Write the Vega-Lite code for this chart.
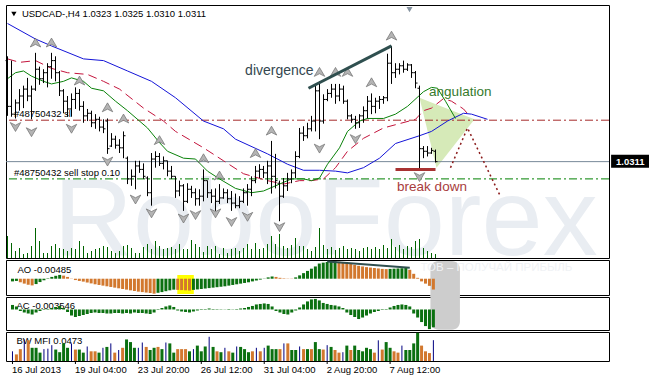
{
"$schema": "https://vega.github.io/schema/vega-lite/v6.json",
"background": "white",
"padding": {"left": 4, "top": 4, "right": 0, "bottom": 17},
"spacing": 2,
"bounds": "flush",
"config": {
  "view": {"stroke": "#000000", "strokeWidth": 1},
  "font": "Liberation Sans",
  "axis": {"labelFont": "Liberation Sans", "labelFontSize": 9, "labelColor": "#000000", "tickColor": "#000000", "domainColor": "#000000", "grid": false}
},
"datasets": {
"bars": [
{"i":0,"o":1.0428,"h":1.0433,"l":1.0364,"c":1.0375,"v":1320,"ao":-0.0012,"aoc":"g","ac":0.0009,"acc":"r","mf":0.022,"mfc":"b"},
{"i":1,"o":1.0375,"h":1.0428,"l":1.0363,"c":1.0366,"v":900,"ao":-0.0010,"aoc":"g","ac":0.0006,"acc":"r","mf":0.015,"mfc":"y"},
{"i":2,"o":1.0366,"h":1.0383,"l":1.0361,"c":1.0379,"v":420,"ao":-0.0016,"aoc":"o","ac":-0.0003,"acc":"r","mf":0.027,"mfc":"y"},
{"i":3,"o":1.0379,"h":1.0395,"l":1.0370,"c":1.0387,"v":600,"ao":-0.0022,"aoc":"o","ac":-0.0006,"acc":"r","mf":0.049,"mfc":"b"},
{"i":4,"o":1.0387,"h":1.0399,"l":1.0373,"c":1.0395,"v":240,"ao":-0.0027,"aoc":"o","ac":-0.0008,"acc":"r","mf":0.047,"mfc":"y"},
{"i":5,"o":1.0395,"h":1.0408,"l":1.0381,"c":1.0387,"v":300,"ao":-0.0030,"aoc":"o","ac":-0.0010,"acc":"r","mf":0.030,"mfc":"r"},
{"i":6,"o":1.0387,"h":1.0399,"l":1.0360,"c":1.0395,"v":720,"ao":-0.0024,"aoc":"g","ac":-0.0006,"acc":"g","mf":0.030,"mfc":"r"},
{"i":7,"o":1.0395,"h":1.0437,"l":1.0393,"c":1.0418,"v":1800,"ao":-0.0015,"aoc":"g","ac":-0.0003,"acc":"g","mf":0.019,"mfc":"r"},
{"i":8,"o":1.0418,"h":1.0421,"l":1.0400,"c":1.0407,"v":1020,"ao":-0.0007,"aoc":"g","ac":-0.0001,"acc":"g","mf":0.027,"mfc":"b"},
{"i":9,"o":1.0407,"h":1.0418,"l":1.0402,"c":1.0414,"v":300,"ao":0.0002,"aoc":"g","ac":0.0001,"acc":"g","mf":0.028,"mfc":"b"},
{"i":10,"o":1.0414,"h":1.0425,"l":1.0397,"c":1.0421,"v":300,"ao":0.0008,"aoc":"g","ac":0.0003,"acc":"g","mf":0.036,"mfc":"b"},
{"i":11,"o":1.0421,"h":1.0437,"l":1.0407,"c":1.0428,"v":720,"ao":0.0013,"aoc":"g","ac":0.0005,"acc":"g","mf":0.026,"mfc":"r"},
{"i":12,"o":1.0428,"h":1.0433,"l":1.0404,"c":1.0414,"v":840,"ao":0.0017,"aoc":"g","ac":0.0007,"acc":"g","mf":0.020,"mfc":"r"},
{"i":13,"o":1.0414,"h":1.0416,"l":1.0387,"c":1.0393,"v":600,"ao":0.0014,"aoc":"o","ac":0.0003,"acc":"r","mf":0.040,"mfc":"g"},
{"i":14,"o":1.0393,"h":1.0395,"l":1.0367,"c":1.0381,"v":540,"ao":0.0008,"aoc":"o","ac":-0.0005,"acc":"r","mf":0.030,"mfc":"g"},
{"i":15,"o":1.0381,"h":1.0387,"l":1.0363,"c":1.0372,"v":420,"ao":0.0001,"aoc":"o","ac":-0.0012,"acc":"r","mf":0.040,"mfc":"b"},
{"i":16,"o":1.0372,"h":1.0390,"l":1.0363,"c":1.0383,"v":600,"ao":-0.0006,"aoc":"o","ac":-0.0015,"acc":"r","mf":0.026,"mfc":"y"},
{"i":17,"o":1.0383,"h":1.0397,"l":1.0372,"c":1.0390,"v":540,"ao":-0.0010,"aoc":"o","ac":-0.0013,"acc":"g","mf":0.026,"mfc":"g"},
{"i":18,"o":1.0390,"h":1.0395,"l":1.0370,"c":1.0375,"v":1020,"ao":-0.0013,"aoc":"o","ac":-0.0011,"acc":"g","mf":0.019,"mfc":"r"},
{"i":19,"o":1.0375,"h":1.0381,"l":1.0356,"c":1.0364,"v":720,"ao":-0.0017,"aoc":"o","ac":-0.0009,"acc":"g","mf":0.033,"mfc":"b"},
{"i":20,"o":1.0364,"h":1.0372,"l":1.0358,"c":1.0367,"v":300,"ao":-0.0021,"aoc":"o","ac":-0.0007,"acc":"g","mf":0.022,"mfc":"y"},
{"i":21,"o":1.0367,"h":1.0370,"l":1.0351,"c":1.0356,"v":420,"ao":-0.0025,"aoc":"o","ac":-0.0006,"acc":"g","mf":0.022,"mfc":"y"},
{"i":22,"o":1.0356,"h":1.0366,"l":1.0349,"c":1.0360,"v":540,"ao":-0.0028,"aoc":"o","ac":-0.0007,"acc":"r","mf":0.019,"mfc":"r"},
{"i":23,"o":1.0360,"h":1.0363,"l":1.0346,"c":1.0351,"v":600,"ao":-0.0031,"aoc":"o","ac":-0.0007,"acc":"r","mf":0.030,"mfc":"b"},
{"i":24,"o":1.0351,"h":1.0360,"l":1.0344,"c":1.0349,"v":720,"ao":-0.0034,"aoc":"o","ac":-0.0008,"acc":"r","mf":0.032,"mfc":"g"},
{"i":25,"o":1.0358,"h":1.0361,"l":1.0320,"c":1.0326,"v":660,"ao":-0.0037,"aoc":"o","ac":-0.0008,"acc":"r","mf":0.040,"mfc":"b"},
{"i":26,"o":1.0329,"h":1.0344,"l":1.0328,"c":1.0337,"v":420,"ao":-0.0040,"aoc":"o","ac":-0.0007,"acc":"g","mf":0.019,"mfc":"y"},
{"i":27,"o":1.0337,"h":1.0341,"l":1.0326,"c":1.0330,"v":300,"ao":-0.0043,"aoc":"o","ac":-0.0007,"acc":"r","mf":0.025,"mfc":"b"},
{"i":28,"o":1.0330,"h":1.0337,"l":1.0321,"c":1.0327,"v":420,"ao":-0.0046,"aoc":"o","ac":-0.0008,"acc":"r","mf":0.030,"mfc":"y"},
{"i":29,"o":1.0327,"h":1.0346,"l":1.0315,"c":1.0341,"v":720,"ao":-0.0049,"aoc":"o","ac":-0.0007,"acc":"g","mf":0.049,"mfc":"g"},
{"i":30,"o":1.0315,"h":1.0317,"l":1.0285,"c":1.0291,"v":780,"ao":-0.0052,"aoc":"o","ac":-0.0008,"acc":"r","mf":0.043,"mfc":"r"},
{"i":31,"o":1.0291,"h":1.0302,"l":1.0283,"c":1.0294,"v":600,"ao":-0.0055,"aoc":"o","ac":-0.0006,"acc":"g","mf":0.030,"mfc":"r"},
{"i":32,"o":1.0294,"h":1.0312,"l":1.0279,"c":1.0306,"v":300,"ao":-0.0058,"aoc":"o","ac":-0.0007,"acc":"r","mf":0.030,"mfc":"b"},
{"i":33,"o":1.0306,"h":1.0312,"l":1.0298,"c":1.0302,"v":300,"ao":-0.0060,"aoc":"o","ac":-0.0007,"acc":"r","mf":0.042,"mfc":"b"},
{"i":34,"o":1.0302,"h":1.0309,"l":1.0291,"c":1.0294,"v":660,"ao":-0.0062,"aoc":"o","ac":-0.0008,"acc":"r","mf":0.032,"mfc":"y"},
{"i":35,"o":1.0292,"h":1.0294,"l":1.0271,"c":1.0275,"v":840,"ao":-0.0064,"aoc":"o","ac":-0.0009,"acc":"r","mf":0.025,"mfc":"r"},
{"i":36,"o":1.0275,"h":1.0321,"l":1.0260,"c":1.0314,"v":540,"ao":-0.0067,"aoc":"o","ac":-0.0006,"acc":"g","mf":0.030,"mfc":"g"},
{"i":37,"o":1.0314,"h":1.0323,"l":1.0304,"c":1.0317,"v":1020,"ao":-0.0063,"aoc":"g","ac":-0.0001,"acc":"g","mf":0.032,"mfc":"y"},
{"i":38,"o":1.0317,"h":1.0321,"l":1.0306,"c":1.0309,"v":720,"ao":-0.0060,"aoc":"g","ac":0.0003,"acc":"g","mf":0.027,"mfc":"g"},
{"i":39,"o":1.0309,"h":1.0317,"l":1.0302,"c":1.0312,"v":540,"ao":-0.0056,"aoc":"g","ac":0.0006,"acc":"g","mf":0.042,"mfc":"b"},
{"i":40,"o":1.0312,"h":1.0312,"l":1.0294,"c":1.0300,"v":600,"ao":-0.0052,"aoc":"g","ac":0.0008,"acc":"g","mf":0.040,"mfc":"g"},
{"i":41,"o":1.0300,"h":1.0306,"l":1.0291,"c":1.0294,"v":660,"ao":-0.0049,"aoc":"g","ac":0.0005,"acc":"r","mf":0.019,"mfc":"r"},
{"i":42,"o":1.0294,"h":1.0294,"l":1.0269,"c":1.0277,"v":540,"ao":-0.0050,"aoc":"o","ac":-0.0002,"acc":"r","mf":0.027,"mfc":"y"},
{"i":43,"o":1.0277,"h":1.0289,"l":1.0271,"c":1.0283,"v":840,"ao":-0.0051,"aoc":"o","ac":-0.0004,"acc":"r","mf":0.027,"mfc":"y"},
{"i":44,"o":1.0283,"h":1.0285,"l":1.0254,"c":1.0265,"v":540,"ao":-0.0052,"aoc":"o","ac":-0.0005,"acc":"r","mf":0.027,"mfc":"y"},
{"i":45,"o":1.0265,"h":1.0286,"l":1.0263,"c":1.0279,"v":540,"ao":-0.0053,"aoc":"o","ac":-0.0006,"acc":"r","mf":0.022,"mfc":"r"},
{"i":46,"o":1.0279,"h":1.0283,"l":1.0269,"c":1.0275,"v":1080,"ao":-0.0050,"aoc":"g","ac":-0.0004,"acc":"g","mf":0.027,"mfc":"b"},
{"i":47,"o":1.0275,"h":1.0280,"l":1.0260,"c":1.0268,"v":840,"ao":-0.0048,"aoc":"g","ac":-0.0002,"acc":"g","mf":0.035,"mfc":"g"},
{"i":48,"o":1.0268,"h":1.0279,"l":1.0260,"c":1.0271,"v":660,"ao":-0.0046,"aoc":"g","ac":-0.0001,"acc":"g","mf":0.022,"mfc":"r"},
{"i":49,"o":1.0271,"h":1.0302,"l":1.0265,"c":1.0289,"v":360,"ao":-0.0044,"aoc":"g","ac":0.0001,"acc":"g","mf":0.033,"mfc":"g"},
{"i":50,"o":1.0289,"h":1.0289,"l":1.0269,"c":1.0275,"v":720,"ao":-0.0042,"aoc":"g","ac":0.0002,"acc":"g","mf":0.055,"mfc":"b"},
{"i":51,"o":1.0275,"h":1.0279,"l":1.0263,"c":1.0271,"v":540,"ao":-0.0040,"aoc":"g","ac":0.0001,"acc":"r","mf":0.032,"mfc":"r"},
{"i":52,"o":1.0271,"h":1.0280,"l":1.0254,"c":1.0265,"v":720,"ao":-0.0038,"aoc":"g","ac":0.00008,"acc":"r","mf":0.022,"mfc":"y"},
{"i":53,"o":1.0265,"h":1.0285,"l":1.0262,"c":1.0269,"v":240,"ao":-0.0036,"aoc":"g","ac":0.00006,"acc":"r","mf":0.020,"mfc":"r"},
{"i":54,"o":1.0269,"h":1.0280,"l":1.0268,"c":1.0275,"v":600,"ao":-0.0034,"aoc":"g","ac":0.00004,"acc":"r","mf":0.030,"mfc":"b"},
{"i":55,"o":1.0275,"h":1.0279,"l":1.0263,"c":1.0268,"v":300,"ao":-0.0031,"aoc":"g","ac":-0.0001,"acc":"r","mf":0.022,"mfc":"y"},
{"i":56,"o":1.0268,"h":1.0277,"l":1.0254,"c":1.0263,"v":540,"ao":-0.0028,"aoc":"g","ac":-0.00005,"acc":"g","mf":0.019,"mfc":"g"},
{"i":57,"o":1.0263,"h":1.0274,"l":1.0257,"c":1.0260,"v":600,"ao":-0.0025,"aoc":"g","ac":0.0001,"acc":"g","mf":0.033,"mfc":"b"},
{"i":58,"o":1.0260,"h":1.0271,"l":1.0257,"c":1.0265,"v":420,"ao":-0.0022,"aoc":"g","ac":0.0002,"acc":"g","mf":0.032,"mfc":"r"},
{"i":59,"o":1.0265,"h":1.0280,"l":1.0263,"c":1.0275,"v":600,"ao":-0.0019,"aoc":"g","ac":0.0003,"acc":"g","mf":0.027,"mfc":"g"},
{"i":60,"o":1.0275,"h":1.0285,"l":1.0260,"c":1.0279,"v":840,"ao":-0.0016,"aoc":"g","ac":0.0005,"acc":"g","mf":0.020,"mfc":"r"},
{"i":61,"o":1.0279,"h":1.0294,"l":1.0271,"c":1.0289,"v":540,"ao":-0.0012,"aoc":"g","ac":0.0007,"acc":"g","mf":0.022,"mfc":"y"},
{"i":62,"o":1.0289,"h":1.0306,"l":1.0286,"c":1.0300,"v":900,"ao":-0.0008,"aoc":"g","ac":0.0010,"acc":"g","mf":0.030,"mfc":"b"},
{"i":63,"o":1.0300,"h":1.0308,"l":1.0292,"c":1.0302,"v":540,"ao":-0.0004,"aoc":"g","ac":0.0011,"acc":"g","mf":0.022,"mfc":"y"},
{"i":64,"o":1.0302,"h":1.0306,"l":1.0292,"c":1.0298,"v":600,"ao":0.0001,"aoc":"g","ac":0.0012,"acc":"g","mf":0.030,"mfc":"b"},
{"i":65,"o":1.0298,"h":1.0312,"l":1.0285,"c":1.0306,"v":840,"ao":0.0006,"aoc":"g","ac":0.0011,"acc":"r","mf":0.035,"mfc":"g"},
{"i":66,"o":1.0306,"h":1.0335,"l":1.0274,"c":1.0294,"v":1320,"ao":0.0010,"aoc":"g","ac":0.0006,"acc":"r","mf":0.027,"mfc":"r"},
{"i":67,"o":1.0294,"h":1.0320,"l":1.0280,"c":1.0289,"v":840,"ao":0.0008,"aoc":"o","ac":-0.0003,"acc":"r","mf":0.027,"mfc":"r"},
{"i":68,"o":1.0286,"h":1.0289,"l":1.0242,"c":1.0271,"v":1440,"ao":0.0004,"aoc":"o","ac":-0.0006,"acc":"r","mf":0.027,"mfc":"y"},
{"i":69,"o":1.0271,"h":1.0292,"l":1.0269,"c":1.0283,"v":720,"ao":0.0002,"aoc":"o","ac":-0.0009,"acc":"r","mf":0.040,"mfc":"b"},
{"i":70,"o":1.0283,"h":1.0298,"l":1.0277,"c":1.0291,"v":600,"ao":0.0001,"aoc":"o","ac":-0.0010,"acc":"r","mf":0.040,"mfc":"y"},
{"i":71,"o":1.0291,"h":1.0302,"l":1.0286,"c":1.0298,"v":780,"ao":-0.0001,"aoc":"o","ac":-0.0006,"acc":"g","mf":0.025,"mfc":"r"},
{"i":72,"o":1.0298,"h":1.0323,"l":1.0292,"c":1.0317,"v":1200,"ao":0.0006,"aoc":"g","ac":-0.0002,"acc":"g","mf":0.025,"mfc":"g"},
{"i":73,"o":1.0317,"h":1.0350,"l":1.0315,"c":1.0344,"v":720,"ao":0.0015,"aoc":"g","ac":0.0004,"acc":"g","mf":0.033,"mfc":"b"},
{"i":74,"o":1.0344,"h":1.0352,"l":1.0335,"c":1.0341,"v":720,"ao":0.0025,"aoc":"g","ac":0.0010,"acc":"g","mf":0.027,"mfc":"y"},
{"i":75,"o":1.0341,"h":1.0356,"l":1.0338,"c":1.0349,"v":540,"ao":0.0035,"aoc":"g","ac":0.0016,"acc":"g","mf":0.027,"mfc":"r"},
{"i":76,"o":1.0349,"h":1.0364,"l":1.0346,"c":1.0358,"v":420,"ao":0.0045,"aoc":"g","ac":0.0020,"acc":"g","mf":0.027,"mfc":"y"},
{"i":77,"o":1.0358,"h":1.0401,"l":1.0346,"c":1.0393,"v":660,"ao":0.0055,"aoc":"g","ac":0.0021,"acc":"g","mf":0.043,"mfc":"g"},
{"i":78,"o":1.0393,"h":1.0404,"l":1.0337,"c":1.0358,"v":1800,"ao":0.0068,"aoc":"g","ac":0.0018,"acc":"r","mf":0.027,"mfc":"r"},
{"i":79,"o":1.0358,"h":1.0389,"l":1.0355,"c":1.0383,"v":780,"ao":0.0072,"aoc":"g","ac":0.0013,"acc":"r","mf":0.026,"mfc":"y"},
{"i":80,"o":1.0383,"h":1.0395,"l":1.0381,"c":1.0390,"v":540,"ao":0.0075,"aoc":"g","ac":0.0011,"acc":"r","mf":0.036,"mfc":"b"},
{"i":81,"o":1.0390,"h":1.0401,"l":1.0385,"c":1.0395,"v":660,"ao":0.0077,"aoc":"g","ac":0.0009,"acc":"r","mf":0.032,"mfc":"r"},
{"i":82,"o":1.0395,"h":1.0401,"l":1.0378,"c":1.0387,"v":480,"ao":0.0078,"aoc":"g","ac":0.0008,"acc":"r","mf":0.025,"mfc":"y"},
{"i":83,"o":1.0387,"h":1.0401,"l":1.0381,"c":1.0395,"v":600,"ao":0.0076,"aoc":"o","ac":0.0006,"acc":"r","mf":0.019,"mfc":"y"},
{"i":84,"o":1.0395,"h":1.0399,"l":1.0378,"c":1.0381,"v":720,"ao":0.0073,"aoc":"o","ac":0.0003,"acc":"r","mf":0.020,"mfc":"b"},
{"i":85,"o":1.0381,"h":1.0383,"l":1.0360,"c":1.0364,"v":540,"ao":0.0070,"aoc":"o","ac":-0.0006,"acc":"r","mf":0.035,"mfc":"g"},
{"i":86,"o":1.0364,"h":1.0366,"l":1.0356,"c":1.0360,"v":600,"ao":0.0066,"aoc":"o","ac":-0.0011,"acc":"r","mf":0.025,"mfc":"y"},
{"i":87,"o":1.0360,"h":1.0364,"l":1.0349,"c":1.0356,"v":540,"ao":0.0062,"aoc":"o","ac":-0.0015,"acc":"r","mf":0.035,"mfc":"g"},
{"i":88,"o":1.0356,"h":1.0366,"l":1.0350,"c":1.0364,"v":420,"ao":0.0058,"aoc":"o","ac":-0.0019,"acc":"r","mf":0.025,"mfc":"r"},
{"i":89,"o":1.0364,"h":1.0375,"l":1.0356,"c":1.0370,"v":600,"ao":0.0055,"aoc":"o","ac":-0.0016,"acc":"g","mf":0.022,"mfc":"r"},
{"i":90,"o":1.0370,"h":1.0387,"l":1.0361,"c":1.0381,"v":660,"ao":0.0052,"aoc":"o","ac":-0.0012,"acc":"g","mf":0.030,"mfc":"g"},
{"i":91,"o":1.0381,"h":1.0390,"l":1.0366,"c":1.0375,"v":540,"ao":0.0050,"aoc":"o","ac":-0.0008,"acc":"g","mf":0.027,"mfc":"r"},
{"i":92,"o":1.0375,"h":1.0385,"l":1.0367,"c":1.0381,"v":660,"ao":0.0048,"aoc":"o","ac":-0.0005,"acc":"g","mf":0.019,"mfc":"y"},
{"i":93,"o":1.0381,"h":1.0387,"l":1.0372,"c":1.0383,"v":540,"ao":0.0046,"aoc":"o","ac":-0.0003,"acc":"g","mf":0.047,"mfc":"b"},
{"i":94,"o":1.0383,"h":1.0387,"l":1.0378,"c":1.0385,"v":780,"ao":0.0044,"aoc":"o","ac":-0.0001,"acc":"g","mf":0.026,"mfc":"y"},
{"i":95,"o":1.0385,"h":1.0436,"l":1.0381,"c":1.0425,"v":600,"ao":0.0043,"aoc":"o","ac":0.0001,"acc":"g","mf":0.043,"mfc":"g"},
{"i":96,"o":1.0425,"h":1.0445,"l":1.0401,"c":1.0414,"v":1140,"ao":0.0044,"aoc":"g","ac":0.0004,"acc":"g","mf":0.030,"mfc":"r"},
{"i":97,"o":1.0414,"h":1.0425,"l":1.0408,"c":1.0418,"v":660,"ao":0.0045,"aoc":"g","ac":0.0007,"acc":"g","mf":0.022,"mfc":"y"},
{"i":98,"o":1.0418,"h":1.0425,"l":1.0412,"c":1.0422,"v":780,"ao":0.0046,"aoc":"g","ac":0.0009,"acc":"g","mf":0.019,"mfc":"y"},
{"i":99,"o":1.0422,"h":1.0428,"l":1.0414,"c":1.0418,"v":540,"ao":0.0047,"aoc":"g","ac":0.0010,"acc":"g","mf":0.035,"mfc":"b"},
{"i":100,"o":1.0418,"h":1.0425,"l":1.0416,"c":1.0423,"v":720,"ao":0.0048,"aoc":"g","ac":0.0009,"acc":"r","mf":0.025,"mfc":"r"},
{"i":101,"o":1.0423,"h":1.0424,"l":1.0408,"c":1.0414,"v":660,"ao":0.0040,"aoc":"o","ac":0.0006,"acc":"r","mf":0.025,"mfc":"r"},
{"i":102,"o":1.0414,"h":1.0416,"l":1.0396,"c":1.0402,"v":1020,"ao":0.0022,"aoc":"o","ac":-0.0008,"acc":"r","mf":0.040,"mfc":"g"},
{"i":103,"o":1.0396,"h":1.0399,"l":1.0302,"c":1.0326,"v":1140,"ao":0.0004,"aoc":"o","ac":-0.0016,"acc":"r","mf":0.064,"mfc":"g"},
{"i":104,"o":1.0326,"h":1.0329,"l":1.0315,"c":1.0323,"v":600,"ao":-0.0012,"aoc":"o","ac":-0.0025,"acc":"r","mf":0.035,"mfc":"y"},
{"i":105,"o":1.0323,"h":1.0329,"l":1.0317,"c":1.0321,"v":420,"ao":-0.0022,"aoc":"o","ac":-0.0033,"acc":"r","mf":0.022,"mfc":"y"},
{"i":106,"o":1.0321,"h":1.0327,"l":1.0320,"c":1.0324,"v":300,"ao":-0.0032,"aoc":"o","ac":-0.0039,"acc":"r","mf":0.018,"mfc":"y"},
{"i":107,"o":1.0323,"h":1.0325,"l":1.0310,"c":1.0311,"v":240,"ao":-0.00485,"aoc":"o","ac":-0.003546,"acc":"g","mf":0.0473,"mfc":"b"}
],
"al": [
{"s":"j","i":0,"v":1.0471},{"s":"j","i":7,"v":1.0453},{"s":"j","i":11,"v":1.0445},{"s":"j","i":19,"v":1.0430},{"s":"j","i":24,"v":1.0428},{"s":"j","i":30,"v":1.0416},{"s":"j","i":36,"v":1.0404},{"s":"j","i":42,"v":1.0385},{"s":"j","i":49,"v":1.0358},{"s":"j","i":54,"v":1.0349},{"s":"j","i":57,"v":1.0337},{"s":"j","i":65,"v":1.0320},{"s":"j","i":70,"v":1.0308},{"s":"j","i":74,"v":1.0301},{"s":"j","i":78,"v":1.0301},{"s":"j","i":82,"v":1.0300},{"s":"j","i":85,"v":1.0298},{"s":"j","i":89,"v":1.0304},{"s":"j","i":93,"v":1.0315},{"s":"j","i":97,"v":1.0332},{"s":"j","i":103,"v":1.0341},{"s":"j","i":106,"v":1.0346},{"s":"j","i":110,"v":1.0358},{"s":"j","i":114,"v":1.0367},{"s":"j","i":116,"v":1.0366},{"s":"j","i":120,"v":1.0360},
{"s":"t","i":0,"v":1.0430},{"s":"t","i":3,"v":1.0426},{"s":"t","i":7,"v":1.0428},{"s":"t","i":11,"v":1.0419},{"s":"t","i":15,"v":1.0414},{"s":"t","i":20,"v":1.0412},{"s":"t","i":24,"v":1.0404},{"s":"t","i":28,"v":1.0395},{"s":"t","i":34,"v":1.0373},{"s":"t","i":39,"v":1.0358},{"s":"t","i":42,"v":1.0346},{"s":"t","i":49,"v":1.0327},{"s":"t","i":54,"v":1.0312},{"s":"t","i":59,"v":1.0297},{"s":"t","i":65,"v":1.0289},{"s":"t","i":69,"v":1.0285},{"s":"t","i":73,"v":1.0289},{"s":"t","i":76,"v":1.0289},{"s":"t","i":79,"v":1.0291},{"s":"t","i":82,"v":1.0304},{"s":"t","i":85,"v":1.0323},{"s":"t","i":89,"v":1.0338},{"s":"t","i":94,"v":1.0350},{"s":"t","i":98,"v":1.0355},{"s":"t","i":102,"v":1.0360},{"s":"t","i":104,"v":1.0370},{"s":"t","i":106,"v":1.0373},{"s":"t","i":109,"v":1.0384},{"s":"t","i":111,"v":1.0381},{"s":"t","i":114,"v":1.0372},{"s":"t","i":115.5,"v":1.0364},
{"s":"l","i":0,"v":1.0407},{"s":"l","i":2,"v":1.0414},{"s":"l","i":4,"v":1.0416},{"s":"l","i":6,"v":1.0410},{"s":"l","i":9,"v":1.0404},{"s":"l","i":11,"v":1.0401},{"s":"l","i":14,"v":1.0404},{"s":"l","i":16,"v":1.0408},{"s":"l","i":19,"v":1.0404},{"s":"l","i":21,"v":1.0396},{"s":"l","i":24,"v":1.0393},{"s":"l","i":27,"v":1.0381},{"s":"l","i":30,"v":1.0370},{"s":"l","i":35,"v":1.0350},{"s":"l","i":38,"v":1.0333},{"s":"l","i":40,"v":1.0323},{"s":"l","i":44,"v":1.0315},{"s":"l","i":47,"v":1.0314},{"s":"l","i":50,"v":1.0300},{"s":"l","i":53,"v":1.0291},{"s":"l","i":57,"v":1.0280},{"s":"l","i":61,"v":1.0275},{"s":"l","i":64,"v":1.0277},{"s":"l","i":68,"v":1.0285},{"s":"l","i":71,"v":1.0291},{"s":"l","i":74,"v":1.0291},{"s":"l","i":76,"v":1.0289},{"s":"l","i":78,"v":1.0292},{"s":"l","i":80,"v":1.0308},{"s":"l","i":83,"v":1.0327},{"s":"l","i":85,"v":1.0346},{"s":"l","i":88,"v":1.0358},{"s":"l","i":90,"v":1.0361},{"s":"l","i":94,"v":1.0361},{"s":"l","i":97,"v":1.0366},{"s":"l","i":100,"v":1.0375},{"s":"l","i":104,"v":1.0392},{"s":"l","i":106,"v":1.0397},{"s":"l","i":107.5,"v":1.0396},{"s":"l","i":109.5,"v":1.0381},{"s":"l","i":112,"v":1.0361}
],
"fr": [
{"i":7,"p":1.0448,"d":"u"},{"i":11,"p":1.0448,"d":"u"},{"i":18,"p":1.0404,"d":"u"},{"i":25,"p":1.0373,"d":"u"},{"i":29,"p":1.0360,"d":"u"},{"i":38,"p":1.0335,"d":"u"},{"i":49,"p":1.0314,"d":"u"},{"i":53,"p":1.0294,"d":"u"},{"i":62,"p":1.0320,"d":"u"},{"i":66,"p":1.0346,"d":"u"},{"i":78,"p":1.0414,"d":"u"},{"i":82,"p":1.0414,"d":"u"},{"i":85,"p":1.0414,"d":"u"},{"i":91,"p":1.0402,"d":"u"},{"i":96,"p":1.0456,"d":"u"},
{"i":2,"p":1.0352,"d":"d"},{"i":6,"p":1.0346,"d":"d"},{"i":16,"p":1.0350,"d":"d"},{"i":25,"p":1.0312,"d":"d"},{"i":32,"p":1.0268,"d":"d"},{"i":36,"p":1.0252,"d":"d"},{"i":44,"p":1.0246,"d":"d"},{"i":47,"p":1.0250,"d":"d"},{"i":52,"p":1.0252,"d":"d"},{"i":56,"p":1.0242,"d":"d"},{"i":60,"p":1.0248,"d":"d"},{"i":68,"p":1.0236,"d":"d"},{"i":78,"p":1.0327,"d":"d"},{"i":87,"p":1.0338,"d":"d"},{"i":103,"p":1.0294,"d":"d"}
],
"dates": [
{"i":0,"t":"16 Jul 2013"},{"i":16,"t":"19 Jul 04:00"},{"i":32,"t":"23 Jul 20:00"},{"i":48,"t":"26 Jul 12:00"},{"i":64,"t":"31 Jul 04:00"},{"i":80,"t":"2 Aug 20:00"},{"i":96,"t":"7 Aug 12:00"}
]
},
"vconcat": [
{
"width": 603, "height": 253,
"resolve": {"scale": {"y": "independent"}},
"layer": [
 {"layer": [
  {"data": {"values": [{}]}, "mark": {"type": "text", "text": "RoboForex", "fontSize": 110, "color": "#e9edf2", "align": "left", "baseline": "alphabetic", "clip": true},
   "encoding": {"x": {"datum": 11.5, "type": "quantitative", "scale": {"domain": [-0.375, 150.375], "nice": false, "zero": false}, "axis": null},
                "y": {"datum": 160, "type": "quantitative", "scale": {"domain": [0, 15180], "nice": false}, "axis": null}}},
  {"data": {"name": "bars"}, "mark": {"type": "rule", "color": "#006400"},
   "encoding": {"x": {"field": "i", "type": "quantitative", "axis": null}, "y": {"field": "v", "type": "quantitative", "axis": null}, "y2": {"datum": 0}}}
 ]},
 {"layer": [
  {"data": {"values": [{"i": 103, "t": 1.0385, "b": 1.0385}, {"i": 107.25, "t": 1.03773, "b": 1.0304}, {"i": 116.75, "t": 1.0360, "b": 1.0360}]},
   "mark": {"type": "area", "color": "#d6eab8", "opacity": 1},
   "encoding": {"x": {"field": "i", "type": "quantitative", "axis": null}, "y": {"field": "t", "type": "quantitative", "scale": {"domain": [1.01994, 1.04924], "nice": false, "zero": false}, "axis": null}, "y2": {"field": "b"}}},
  {"data": {"values": [{}]}, "mark": {"type": "rule", "color": "#a52a2a", "strokeDash": [8, 3, 2, 3]}, "encoding": {"y": {"datum": 1.0359, "type": "quantitative", "axis": null}}},
  {"data": {"values": [{}]}, "mark": {"type": "rule", "color": "#778899"}, "encoding": {"y": {"datum": 1.0311, "type": "quantitative", "axis": null}}},
  {"data": {"values": [{}]}, "mark": {"type": "rule", "color": "#008000", "strokeDash": [8, 3, 2, 3]}, "encoding": {"y": {"datum": 1.0291, "type": "quantitative", "axis": null}}},
  {"data": {"name": "al"}, "transform": [{"filter": "datum.s == 'j'"}], "mark": {"type": "line", "color": "#1414d8", "strokeWidth": 1},
   "encoding": {"x": {"field": "i", "type": "quantitative", "axis": null}, "y": {"field": "v", "type": "quantitative", "axis": null}}},
  {"data": {"name": "al"}, "transform": [{"filter": "datum.s == 't'"}], "mark": {"type": "line", "color": "#c4143c", "strokeWidth": 1, "strokeDash": [9, 5]},
   "encoding": {"x": {"field": "i", "type": "quantitative", "axis": null}, "y": {"field": "v", "type": "quantitative", "axis": null}}},
  {"data": {"name": "al"}, "transform": [{"filter": "datum.s == 'l'"}], "mark": {"type": "line", "color": "#0a820a", "strokeWidth": 1},
   "encoding": {"x": {"field": "i", "type": "quantitative", "axis": null}, "y": {"field": "v", "type": "quantitative", "axis": null}}},
  {"data": {"name": "bars"}, "mark": {"type": "rule", "color": "#000000", "strokeWidth": 1},
   "encoding": {"x": {"field": "i", "type": "quantitative", "axis": null},
                "y": {"field": "h", "type": "quantitative", "title": null, "axis": {"orient": "right", "values": [1.0205, 1.0245, 1.0285, 1.0325, 1.0365, 1.0405, 1.0445, 1.0485], "format": ".4f", "tickSize": 3, "labelPadding": 2, "labelFlush": false, "grid": false, "title": null}},
                "y2": {"field": "l"}}},
  {"data": {"name": "bars"}, "mark": {"type": "rule", "color": "#000000", "strokeWidth": 1, "xOffset": -2, "x2Offset": 0},
   "encoding": {"x": {"field": "i", "type": "quantitative", "axis": null}, "x2": {"field": "i"}, "y": {"field": "o", "type": "quantitative", "axis": null}}},
  {"data": {"name": "bars"}, "mark": {"type": "rule", "color": "#000000", "strokeWidth": 1, "xOffset": 0, "x2Offset": 2},
   "encoding": {"x": {"field": "i", "type": "quantitative", "axis": null}, "x2": {"field": "i"}, "y": {"field": "c", "type": "quantitative", "axis": null}}},
  {"data": {"name": "fr"}, "mark": {"type": "point", "filled": true, "size": 110, "fill": "#b4b4b4", "stroke": "#6e6e6e", "strokeWidth": 0.7, "opacity": 1},
   "encoding": {"x": {"field": "i", "type": "quantitative", "axis": null}, "y": {"field": "p", "type": "quantitative", "axis": null},
                "shape": {"field": "d", "type": "nominal", "scale": {"domain": ["u", "d"], "range": ["M0,-1L1,0.7L0,0.2L-1,0.7Z", "M0,1L1,-0.7L0,-0.2L-1,-0.7Z"]}, "legend": null}}},
  {"data": {"values": [{"i": 75.25, "p": 1.0396}, {"i": 96, "p": 1.0445}]}, "mark": {"type": "line", "color": "#2f4f4f", "strokeWidth": 3},
   "encoding": {"x": {"field": "i", "type": "quantitative", "axis": null}, "y": {"field": "p", "type": "quantitative", "axis": null}}},
  {"data": {"values": [{"i": 97, "p": 1.0302}, {"i": 107, "p": 1.0302}]}, "mark": {"type": "line", "color": "#a83232", "strokeWidth": 3},
   "encoding": {"x": {"field": "i", "type": "quantitative", "axis": null}, "y": {"field": "p", "type": "quantitative", "axis": null}}},
  {"data": {"values": [{"i": 110.75, "p": 1.0304}, {"i": 115, "p": 1.0350}, {"i": 123, "p": 1.0273}]}, "mark": {"type": "line", "color": "#8b1a1a", "strokeWidth": 1.5, "strokeDash": [2, 3]},
   "encoding": {"x": {"field": "i", "type": "quantitative", "axis": null}, "y": {"field": "p", "type": "quantitative", "axis": null}}},
  {"data": {"values": [{}]}, "mark": {"type": "point", "shape": "triangle-down", "filled": true, "size": 28, "color": "#000000", "opacity": 1},
   "encoding": {"x": {"datum": 1.6, "type": "quantitative", "axis": null}, "y": {"datum": 1.0482, "type": "quantitative", "axis": null}}},
  {"data": {"values": [{}]}, "mark": {"type": "text", "text": "USDCAD-,H4  1.0323 1.0325 1.0310 1.0311", "fontSize": 9.5, "color": "#000000", "align": "left", "baseline": "middle"},
   "encoding": {"x": {"datum": 3.6, "type": "quantitative", "axis": null}, "y": {"datum": 1.0482, "type": "quantitative", "axis": null}}},
  {"data": {"values": [{}]}, "mark": {"type": "text", "text": "#48750432 sl", "fontSize": 9.5, "color": "#000000", "align": "left", "baseline": "middle"},
   "encoding": {"x": {"datum": 1.6, "type": "quantitative", "axis": null}, "y": {"datum": 1.0366, "type": "quantitative", "axis": null}}},
  {"data": {"values": [{}]}, "mark": {"type": "text", "text": "#48750432 sell stop 0.10", "fontSize": 9.5, "color": "#000000", "align": "left", "baseline": "middle"},
   "encoding": {"x": {"datum": 1.6, "type": "quantitative", "axis": null}, "y": {"datum": 1.0298, "type": "quantitative", "axis": null}}},
  {"data": {"values": [{}]}, "mark": {"type": "text", "text": "divergence", "fontSize": 14, "color": "#34474f", "align": "left", "baseline": "middle"},
   "encoding": {"x": {"datum": 59.4, "type": "quantitative", "axis": null}, "y": {"datum": 1.0416, "type": "quantitative", "axis": null}}},
  {"data": {"values": [{}]}, "mark": {"type": "text", "text": "angulation", "fontSize": 13.5, "color": "#357a2c", "align": "left", "baseline": "middle"},
   "encoding": {"x": {"datum": 105.4, "type": "quantitative", "axis": null}, "y": {"datum": 1.0392, "type": "quantitative", "axis": null}}},
  {"data": {"values": [{}]}, "mark": {"type": "text", "text": "break down", "fontSize": 13.5, "color": "#a83c3c", "align": "left", "baseline": "middle"},
   "encoding": {"x": {"datum": 97.4, "type": "quantitative", "axis": null}, "y": {"datum": 1.0282, "type": "quantitative", "axis": null}}},
  {"data": {"values": [{}]}, "mark": {"type": "point", "shape": "triangle-down", "filled": true, "size": 36, "color": "#8593a0", "opacity": 1},
   "encoding": {"x": {"datum": 100.5, "type": "quantitative", "axis": null}, "y": {"datum": 1.04871, "type": "quantitative", "axis": null}}},
  {"data": {"values": [{"p": 1.0311}]}, "mark": {"type": "rect", "color": "#000000"},
   "encoding": {"x": {"datum": 150.9, "type": "quantitative", "axis": null}, "x2": {"datum": 160.6}, "y": {"datum": 1.03191, "type": "quantitative", "axis": null}, "y2": {"datum": 1.0304}}},
  {"data": {"values": [{"p": 1.0311}]}, "mark": {"type": "text", "color": "#ffffff", "fontSize": 9.5, "fontWeight": "bold", "align": "center", "baseline": "middle"},
   "encoding": {"x": {"datum": 155.7, "type": "quantitative", "axis": null}, "y": {"field": "p", "type": "quantitative", "axis": null}, "text": {"field": "p", "type": "quantitative", "format": ".4f"}}}
 ]}
]
},
{
"width": 603, "height": 35,
"layer": [
 {"data": {"values": [{}]}, "mark": {"type": "rect", "color": "#ffff00"},
  "encoding": {"x": {"datum": 41.9, "type": "quantitative", "scale": {"domain": [-0.375, 150.375], "nice": false, "zero": false}, "axis": null}, "x2": {"datum": 46.1},
               "y": {"datum": 0.00166, "type": "quantitative", "scale": {"domain": [-0.0073, 0.00839], "nice": false, "zero": false},
                     "axis": {"orient": "right", "values": [-0.0073, 0, 0.00839], "labelExpr": "datum.value == 0 ? '0.00' : (datum.value > 0 ? '0.00839' : '-0.0073')", "tickSize": 3, "labelPadding": 2, "labelFlush": true, "labelOverlap": false, "grid": false, "title": null}},
               "y2": {"datum": -0.00685}}},
 {"data": {"values": [{}]}, "mark": {"type": "rect", "color": "#cdcdcd", "cornerRadiusTopLeft": 8, "cornerRadiusTopRight": 8},
  "encoding": {"x": {"datum": 106.25, "type": "quantitative", "axis": null}, "x2": {"datum": 113.75}, "y": {"datum": 0.0079, "type": "quantitative", "axis": null}, "y2": {"datum": -0.0082}}},
 {"data": {"values": [{}]}, "mark": {"type": "text", "text": "ТОВ – ПОЛУЧАЙ ПРИБЫЛЬ", "fontSize": 11.5, "color": "#f0f2f5", "align": "left", "baseline": "middle"},
  "encoding": {"x": {"datum": 103.75, "type": "quantitative", "axis": null}, "y": {"datum": 0.0050, "type": "quantitative", "axis": null}}},
 {"data": {"values": [{}]}, "mark": {"type": "text", "text": "AO -0.00485", "fontSize": 9.5, "color": "#000000", "align": "left", "baseline": "middle"},
  "encoding": {"x": {"datum": 1.25, "type": "quantitative", "axis": null}, "y": {"datum": 0.0040, "type": "quantitative", "axis": null}}},
 {"data": {"name": "bars"}, "mark": {"type": "bar", "width": 3},
  "encoding": {"x": {"field": "i", "type": "quantitative", "axis": null}, "y": {"field": "ao", "type": "quantitative", "axis": null}, "y2": {"datum": 0},
               "color": {"field": "aoc", "type": "nominal", "scale": {"domain": ["g", "o"], "range": ["#0b7010", "#d2782e"]}, "legend": null}}},
 {"data": {"values": [{"i": 80, "v": 0.0077}, {"i": 101, "v": 0.0049}]}, "mark": {"type": "line", "color": "#2f4f4f", "strokeWidth": 2},
  "encoding": {"x": {"field": "i", "type": "quantitative", "axis": null}, "y": {"field": "v", "type": "quantitative", "axis": null}}}
]
},
{
"width": 603, "height": 33,
"layer": [
 {"data": {"values": [{}]}, "mark": {"type": "rect", "color": "#cdcdcd", "cornerRadiusBottomLeft": 8, "cornerRadiusBottomRight": 8},
  "encoding": {"x": {"datum": 106.25, "type": "quantitative", "scale": {"domain": [-0.375, 150.375], "nice": false, "zero": false}, "axis": null}, "x2": {"datum": 113.75},
               "y": {"datum": 0.00288, "type": "quantitative", "scale": {"domain": [-0.00408, 0.002481], "nice": false, "zero": false},
                     "axis": {"orient": "right", "values": [-0.00408, 0, 0.002481], "labelExpr": "datum.value == 0 ? '0.00' : (datum.value > 0 ? '0.002481' : '-0.00408')", "tickSize": 3, "labelPadding": 2, "labelFlush": true, "labelOverlap": false, "grid": false, "title": null}},
               "y2": {"datum": -0.00404}}},
 {"data": {"values": [{}]}, "mark": {"type": "text", "text": "AC -0.003546", "fontSize": 9.5, "color": "#000000", "align": "left", "baseline": "middle"},
  "encoding": {"x": {"datum": 1.0, "type": "quantitative", "axis": null}, "y": {"datum": 0.0007, "type": "quantitative", "axis": null}}},
 {"data": {"name": "bars"}, "mark": {"type": "bar", "width": 3},
  "encoding": {"x": {"field": "i", "type": "quantitative", "axis": null}, "y": {"field": "ac", "type": "quantitative", "axis": null}, "y2": {"datum": 0},
               "color": {"field": "acc", "type": "nominal", "scale": {"domain": ["g", "r"], "range": ["#0b7010", "#dc143c"]}, "legend": null}}}
]
},
{
"width": 603, "height": 29,
"layer": [
 {"data": {"values": [{}]}, "mark": {"type": "text", "text": "BW MFI 0.0473", "fontSize": 9.5, "color": "#000000", "align": "left", "baseline": "middle"},
  "encoding": {"x": {"datum": 1.0, "type": "quantitative", "scale": {"domain": [-0.375, 150.375], "nice": false, "zero": false}, "axis": null},
               "y": {"datum": 0.0454, "type": "quantitative", "scale": {"domain": [0, 0.0659], "nice": false, "zero": false},
                     "axis": {"orient": "right", "values": [0, 0.0659], "labelExpr": "datum.value == 0 ? '0' : '0.0659'", "tickSize": 3, "labelPadding": 2, "labelFlush": true, "labelOverlap": false, "grid": false, "title": null}}}},
 {"data": {"name": "bars"}, "transform": [{"filter": "datum.mfc != 'b'"}], "mark": {"type": "bar", "width": 3},
  "encoding": {"x": {"field": "i", "type": "quantitative", "axis": null},
               "y": {"field": "mf", "type": "quantitative", "axis": null}, "y2": {"datum": 0},
               "color": {"field": "mfc", "type": "nominal", "scale": {"domain": ["g", "y", "r", "b"], "range": ["#2e8b57", "#c8962d", "#dc143c", "#000080"]}, "legend": null}}},
 {"data": {"name": "bars"}, "transform": [{"filter": "datum.mfc == 'b'"}], "mark": {"type": "rule", "color": "#000080", "strokeWidth": 1},
  "encoding": {"x": {"field": "i", "type": "quantitative", "axis": null}, "y": {"field": "mf", "type": "quantitative", "axis": null}, "y2": {"datum": 0}}},
 {"data": {"name": "dates"}, "mark": {"type": "rule", "color": "#000000", "strokeWidth": 1},
  "encoding": {"x": {"field": "i", "type": "quantitative", "axis": null}, "y": {"datum": 0, "type": "quantitative", "axis": null}, "y2": {"datum": -0.0068}}},
 {"data": {"name": "dates"}, "mark": {"type": "text", "fontSize": 9.5, "color": "#000000", "align": "left", "baseline": "top", "dx": -0.5},
  "encoding": {"x": {"field": "i", "type": "quantitative", "axis": null}, "y": {"datum": -0.0091, "type": "quantitative", "axis": null}, "text": {"field": "t", "type": "nominal"}}}
]
}
]
}
